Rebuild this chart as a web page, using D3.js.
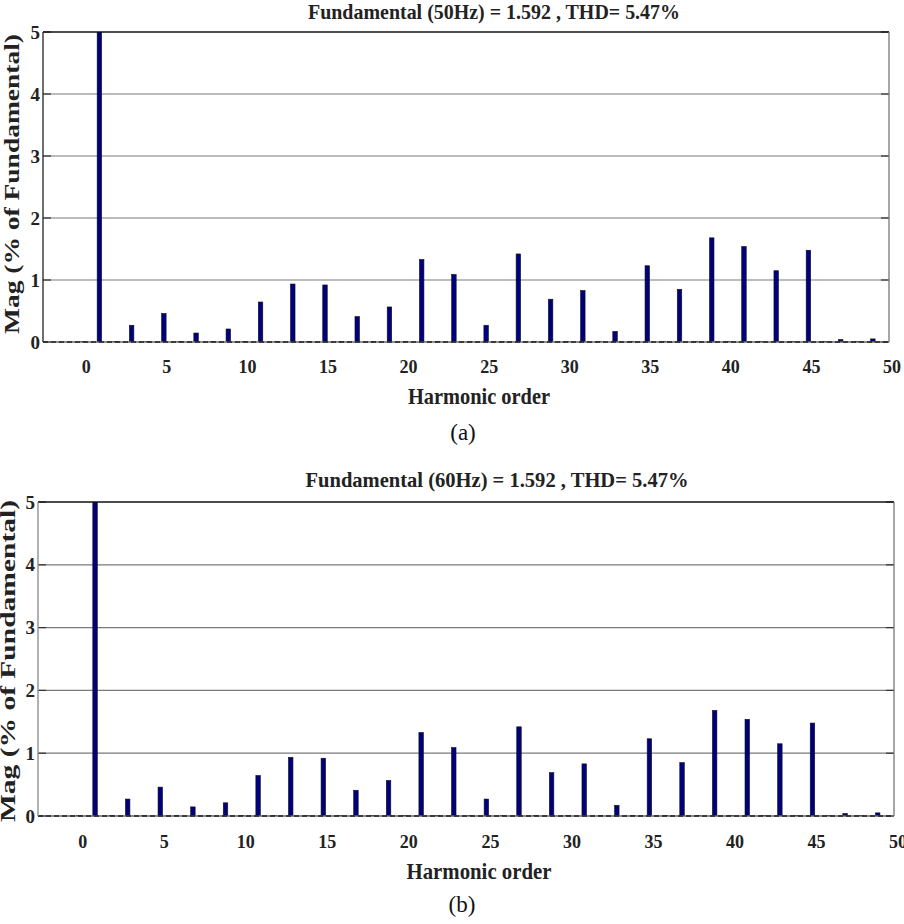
<!DOCTYPE html>
<html>
<head>
<meta charset="utf-8">
<script src="https://cdn.jsdelivr.net/npm/d3@7"></script>
<style>
  html, body { margin: 0; padding: 0; background: #fff; }
  svg { display: block; }
  text { font-family: "Liberation Serif", "Times New Roman", serif; fill: #222; }
</style>
</head>
<body>
<svg id="chart" width="904" height="924"></svg>
<script>
// ---- data ----
const harmonicOrders = [0,1,2,3,4,5,6,7,8,9,10,11,12,13,14,15,16,17,18,19,20,21,22,23,24,25,26,27,28,29,30,31,32,33,34,35,36,37,38,39,40,41,42,43,44,45,46,47,48,49];
const magA = [0.01,100,0.01,0.27,0.01,0.46,0.01,0.145,0.01,0.21,0.01,0.645,0.01,0.935,0.01,0.92,0.01,0.41,0.01,0.565,0.01,1.33,0.01,1.09,0.01,0.27,0.01,1.42,0.01,0.69,0.01,0.83,0.01,0.17,0.01,1.23,0.01,0.85,0.01,1.68,0.01,1.54,0.01,1.15,0.01,1.48,0.01,0.04,0.01,0.05];
const magB = [0.01,100,0.01,0.27,0.01,0.46,0.01,0.145,0.01,0.21,0.01,0.645,0.01,0.935,0.01,0.92,0.01,0.41,0.01,0.565,0.01,1.33,0.01,1.09,0.01,0.27,0.01,1.42,0.01,0.69,0.01,0.83,0.01,0.17,0.01,1.23,0.01,0.85,0.01,1.68,0.01,1.54,0.01,1.15,0.01,1.48,0.01,0.04,0.01,0.05];
const xTicks = [0,5,10,15,20,25,30,35,40,45,50];
const yTicks = [0,1,2,3,4,5];
const titleA = "Fundamental (50Hz) = 1.592 , THD= 5.47%";
const titleB = "Fundamental (60Hz) = 1.592 , THD= 5.47%";
const yLabel = "Mag (% of Fundamental)";
const xLabel = "Harmonic order";

const svg = d3.select("#chart");

function drawChart(cfg) {
  const g = svg.append("g");
  const x = d3.scaleLinear().domain([-2.5, 50]).range([cfg.left, cfg.right]);
  const y = d3.scaleLinear().domain([0, 5]).range([cfg.bottom, cfg.top]);
  const clipId = "clip" + cfg.id;
  svg.append("clipPath").attr("id", clipId)
    .append("rect").attr("x", cfg.left).attr("y", cfg.top)
    .attr("width", cfg.right - cfg.left).attr("height", cfg.bottom - cfg.top);

  // grid lines
  g.selectAll(".grid").data(yTicks.filter(d => d > 0 && d < 5)).enter()
    .append("line")
    .attr("x1", cfg.left).attr("x2", cfg.right)
    .attr("y1", d => y(d)).attr("y2", d => y(d))
    .attr("stroke", "#7a7a7a").attr("stroke-width", 1.2);

  // y tick marks (inside, both sides)
  g.selectAll(".tl").data(yTicks).enter().append("line")
    .attr("x1", cfg.left).attr("x2", cfg.left + 8)
    .attr("y1", d => y(d)).attr("y2", d => y(d))
    .attr("stroke", "#333").attr("stroke-width", 1.2);
  g.selectAll(".tr").data(yTicks).enter().append("line")
    .attr("x1", cfg.right - 8).attr("x2", cfg.right)
    .attr("y1", d => y(d)).attr("y2", d => y(d))
    .attr("stroke", "#333").attr("stroke-width", 1.2);

  // bars
  const bw = 4.5;
  const barG = g.append("g").attr("clip-path", "url(#" + clipId + ")");
  barG.selectAll("rect").data(cfg.values.map((v, i) => ({o: harmonicOrders[i], v}))).enter()
    .append("rect")
    .attr("x", d => x(d.o) - bw / 2)
    .attr("width", bw)
    .attr("y", d => y(d.v))
    .attr("height", d => y(0) - y(d.v))
    .attr("fill", "#00007f")
    .attr("stroke", "#111")
    .attr("stroke-width", 0.6);

  // baseline (dashed look)
  g.append("line").attr("x1", cfg.left).attr("x2", cfg.right)
    .attr("y1", y(0)).attr("y2", y(0))
    .attr("stroke", "#666").attr("stroke-width", 1.5);
  g.append("line").attr("x1", cfg.left).attr("x2", cfg.right)
    .attr("y1", y(0)).attr("y2", y(0))
    .attr("stroke", "#222").attr("stroke-width", 1.5)
    .attr("stroke-dasharray", "5,3");

  // frame
  g.append("line").attr("x1", cfg.left).attr("x2", cfg.right)
    .attr("y1", cfg.top).attr("y2", cfg.top).attr("stroke", "#111").attr("stroke-width", 1.3);
  g.append("line").attr("x1", cfg.left).attr("x2", cfg.left)
    .attr("y1", cfg.top).attr("y2", cfg.bottom).attr("stroke", cfg.leftColor).attr("stroke-width", 1.3);
  g.append("line").attr("x1", cfg.right).attr("x2", cfg.right)
    .attr("y1", cfg.top).attr("y2", cfg.bottom).attr("stroke", "#777").attr("stroke-width", 1.3);

  // y tick labels
  g.selectAll(".yl").data(yTicks).enter().append("text")
    .attr("x", cfg.left - 3).attr("y", d => y(d)).attr("dy", "0.35em")
    .attr("text-anchor", "end")
    .style("font-size", "19px").style("font-weight", "bold")
    .text(d => d);

  // x tick labels
  g.selectAll(".xl").data(xTicks).enter().append("text")
    .attr("x", d => x(d) + cfg.labelShift).attr("y", cfg.xTickBase)
    .attr("text-anchor", "middle")
    .style("font-size", "18px").style("font-weight", "bold")
    .text(d => d);

  // title
  g.append("text").attr("x", cfg.titleX).attr("y", cfg.titleY)
    .attr("text-anchor", "middle")
    .attr("textLength", cfg.titleLen).attr("lengthAdjust", "spacingAndGlyphs")
    .style("font-size", "22px").style("font-weight", "bold")
    .text(cfg.title);

  // x label
  g.append("text").attr("x", cfg.xLabelX).attr("y", cfg.xLabelY)
    .attr("text-anchor", "middle")
    .attr("textLength", cfg.xLabelLen).attr("lengthAdjust", "spacingAndGlyphs")
    .style("font-size", "23px").style("font-weight", "bold")
    .text(xLabel);

  // y label
  g.append("text")
    .attr("transform", `translate(${cfg.yLabelX},${cfg.yLabelY}) rotate(-90)`)
    .attr("text-anchor", "middle")
    .attr("textLength", cfg.yLabelLen).attr("lengthAdjust", "spacingAndGlyphs")
    .style("font-size", "21px").style("font-weight", "bold")
    .text(yLabel);

  // panel caption
  g.append("text").attr("x", cfg.capX).attr("y", cfg.capY)
    .attr("text-anchor", "middle")
    .style("font-size", "23px")
    .style("fill", "#111")
    .text(cfg.caption);
}

drawChart({
  id: "a", values: magA, title: titleA, caption: "(a)",
  left: 43, right: 889, top: 32, bottom: 342, leftColor: "#222",
  labelShift: 3, xTickBase: 373,
  titleX: 494, titleY: 19, titleLen: 372,
  xLabelX: 479, xLabelY: 404, xLabelLen: 142,
  yLabelX: 19, yLabelY: 184, yLabelLen: 300,
  capX: 463, capY: 440
});

drawChart({
  id: "b", values: magB, title: titleB, caption: "(b)",
  left: 38, right: 894, top: 502, bottom: 816, leftColor: "#888",
  labelShift: 4, xTickBase: 848,
  titleX: 497, titleY: 487, titleLen: 383,
  xLabelX: 479, xLabelY: 879, xLabelLen: 145,
  yLabelX: 15, yLabelY: 661, yLabelLen: 322,
  capX: 462, capY: 912
});
</script>
</body>
</html>
